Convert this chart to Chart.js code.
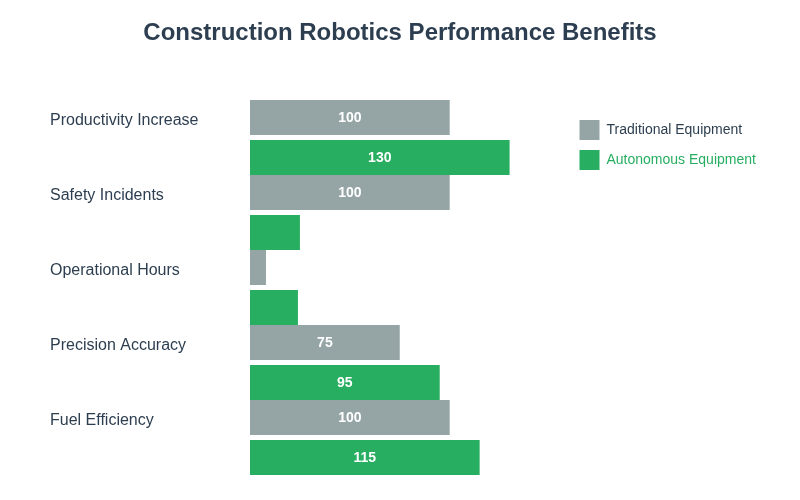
<!DOCTYPE html>
<html>
<head>
<meta charset="utf-8">
<script src="https://cdn.jsdelivr.net/npm/chart.js@4.4.0/dist/chart.umd.min.js"></script>
<style>
html,body{margin:0;padding:0;background:#fff;}
#wrap{width:800px;height:500px;}
</style>
</head>
<body>
<div id="wrap"><canvas id="c" width="800" height="500"></canvas></div>
<script>
const categories = ['Productivity Increase','Safety Incidents','Operational Hours','Precision Accuracy','Fuel Efficiency'];
const traditionalValues = [100, 100, 8, 75, 100];
const autonomousValues = [130, 25, 24, 95, 115];
const seriesNames = ['Traditional Equipment','Autonomous Equipment'];
const seriesColors = ['#95a5a6','#27ae60'];
const textColor = '#2c3e50';

Chart.defaults.font.family = '"Liberation Sans", Arial, sans-serif';

const helpers = {
  id: 'helpers',
  afterInit(chart) {
    const lg = chart.legend;
    if (lg && !lg._patched) {
      const origFit = lg.fit.bind(lg);
      lg.fit = function () { origFit(); this.width += 10; };
      lg._patched = true;
    }
  },
  afterLayout(chart) {
    const t = chart.titleBlock;
    if (t) { t.left = 0; t.right = chart.width; t.width = chart.width; }
  },
  afterDatasetsDraw(chart) {
    const ctx = chart.ctx;
    ctx.save();
    ctx.font = 'bold 14px "Liberation Sans", Arial, sans-serif';
    ctx.fillStyle = '#ffffff';
    ctx.textAlign = 'center';
    ctx.textBaseline = 'middle';
    chart.data.datasets.forEach((ds, di) => {
      const meta = chart.getDatasetMeta(di);
      meta.data.forEach((bar, i) => {
        const v = ds.data[i];
        if (v < 50) return;
        const x = (bar.x + bar.base) / 2;
        ctx.fillText(String(v), x, bar.y + 1);
      });
    });
    ctx.restore();
  }
};

new Chart(document.getElementById('c'), {
  type: 'bar',
  data: {
    labels: categories,
    datasets: [
      { label: seriesNames[0], data: traditionalValues, backgroundColor: seriesColors[0] },
      { label: seriesNames[1], data: autonomousValues, backgroundColor: seriesColors[1] }
    ]
  },
  options: {
    indexAxis: 'y',
    responsive: false,
    animation: false,
    categoryPercentage: 80/75,
    barPercentage: 0.875,
    layout: { padding: { left: 50, right: 44, top: 0, bottom: 25 } },
    scales: {
      x: { display: false, min: 0, max: 160 },
      y: {
        grid: { display: false },
        border: { display: false },
        afterFit(scale) { scale.width = 200; },
        ticks: {
          color: textColor,
          font: { size: 16 },
          crossAlign: 'far',
          labelOffset: -16.5,
          padding: 0
        }
      }
    },
    plugins: {
      title: {
        display: true,
        text: 'Construction Robotics Performance Benefits',
        color: textColor,
        font: { size: 24, weight: 'bold' },
        padding: { top: 19, bottom: 52.2 }
      },
      legend: {
        position: 'right',
        align: 'start',
        fullSize: false,
        title: { display: true, text: '', padding: 0, font: { size: 10, lineHeight: 1 } },
        labels: {
          boxWidth: 20,
          boxHeight: 20,
          padding: 10,
          font: { size: 14 },
          generateLabels(chart) {
            const items = Chart.defaults.plugins.legend.labels.generateLabels(chart);
            items.forEach((it, i) => {
              it.fontColor = i === 1 ? seriesColors[1] : textColor;
              it.lineWidth = 0;
              it.strokeStyle = 'rgba(0,0,0,0)';
            });
            return items;
          }
        }
      },
      tooltip: { enabled: false }
    }
  },
  plugins: [helpers]
});
</script>
</body>
</html>
